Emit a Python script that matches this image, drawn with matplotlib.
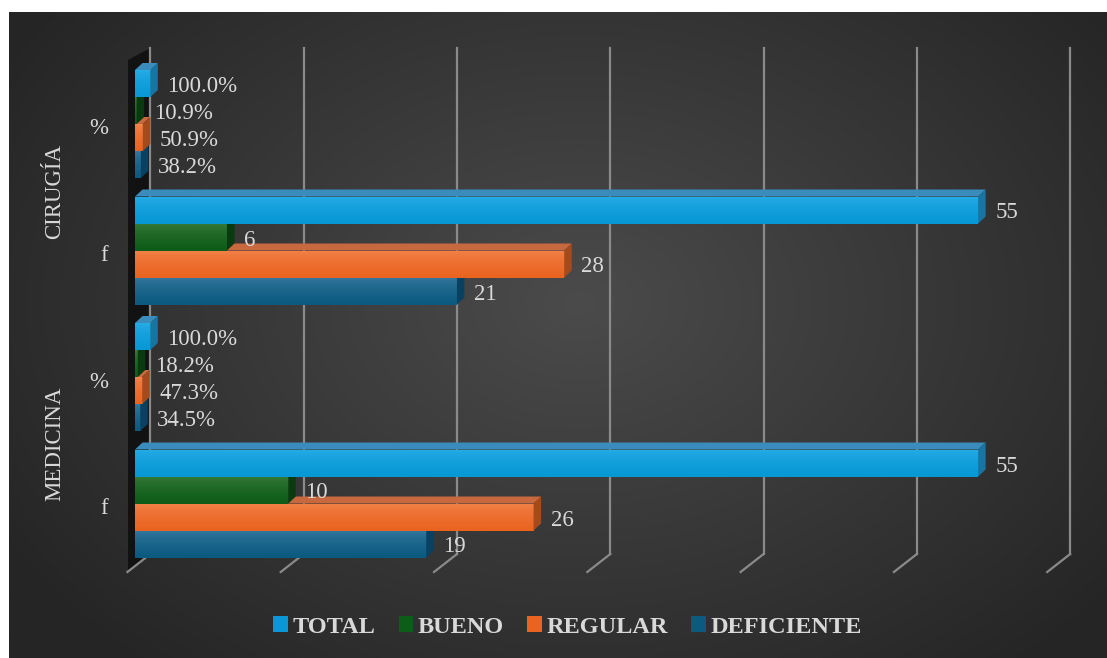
import numpy as np
import matplotlib.pyplot as plt
from matplotlib.patches import Polygon, Rectangle, Patch

# table values: frequency (f) and percentage (%) per service
groups = ['MEDICINA', 'CIRUGÍA']
series = ['DEFICIENTE', 'REGULAR', 'BUENO', 'TOTAL']
freq_medicina = [19, 26, 10, 55]
freq_cirugia = [21, 28, 6, 55]
pct_medicina = [34.5, 47.3, 18.2, 100.0]
pct_cirugia = [38.2, 50.9, 10.9, 100.0]
row_labels = ['f', '%', 'f', '%']
grid_values = [0, 10, 20, 30, 40, 50, 60]

# face colours: (front top, front bottom, top face, side face)
colors = {
    'TOTAL':      ('#2aaee6', '#0898d6', '#3a8cbc', '#1a74a2'),
    'BUENO':      ('#3b7d3b', '#0d5c18', '#2c6a2e', '#0a3a10'),
    'REGULAR':    ('#f3864f', '#ea6420', '#c8683e', '#a34b1c'),
    'DEFICIENTE': ('#3a7ba2', '#0c5a80', '#2d6a90', '#0a4060'),
}
txt_color = '#d9d9d9'
serif = 'Liberation Serif'

W, H = 1107, 658
SX = 15.33      # pixels per value unit
ROW = 126.5     # pixels between category rows
Y0 = 503.5      # pixel row of the lowest category
BAR_H = 27 / ROW
DX, DY = 7.5 / SX, 7 / ROW


def py(ypx):
    return (Y0 - ypx) / ROW


def px(xpx):
    return (xpx - 135) / SX


fig = plt.figure(figsize=(W / 100, H / 100), dpi=100)
fig.patch.set_facecolor('white')

# radial background
bg = fig.add_axes([9 / W, 0, 1 - 9 / W, (H - 12) / H])
bg.set_axis_off()
gx, gy = np.meshgrid(np.linspace(0, 1, 400), np.linspace(0, 1, 240))
r = np.sqrt(((gx - 0.52) / 0.62) ** 2 + ((gy - 0.45) / 0.75) ** 2)
r = np.clip(r, 0, 1)
c_in, c_out = np.array([0x4b, 0x4b, 0x4b]) / 255, np.array([0x25, 0x25, 0x25]) / 255
img = c_in[None, None, :] * (1 - r[..., None]) + c_out[None, None, :] * r[..., None]
bg.imshow(img, aspect='auto', extent=[0, 1, 0, 1], origin='upper')

ax = fig.add_axes([0, 0, 1, 1])
ax.patch.set_alpha(0)
ax.set_axis_off()

# side wall and back gridlines
back = 15.4 / SX
wall = Polygon([(px(128), py(572)), (px(128), py(60)), (back, py(48)), (back, py(554))],
               closed=True, facecolor='#121212', edgecolor='none', zorder=1)
ax.add_patch(wall)
for v in grid_values:
    ax.plot([v + back, v + back], [py(554), py(48)], color='#8a8a8a', lw=1.6, zorder=2)
    ax.plot([v + back, v + back - 23 / SX], [py(554), py(572)], color='#8a8a8a', lw=1.6, zorder=2)

grad = np.linspace(0, 1, 64)[:, None]


def draw_bar(v, yc, name, z, label):
    c_top, c_bot, c_lid, c_side = colors[name]
    y0, y1 = yc - BAR_H / 2, yc + BAR_H / 2
    ctop = np.array(plt.matplotlib.colors.to_rgb(c_top))
    cbot = np.array(plt.matplotlib.colors.to_rgb(c_bot))
    shade = np.clip(ctop[None, :] * (1 - grad ** 0.6) + cbot[None, :] * grad ** 0.6, 0, 1)
    rect = Rectangle((0, y0), v, BAR_H, facecolor=c_bot, edgecolor='none', zorder=z)
    ax.add_patch(rect)
    im = ax.imshow(shade[:, None, :], aspect='auto', extent=[0, v, y0, y1],
                   origin='upper', zorder=z + 0.1, interpolation='bilinear')
    im.set_clip_path(rect)
    lid = Polygon([(0, y1), (v, y1), (v + DX, y1 + DY), (DX, y1 + DY)],
                  closed=True, facecolor=c_lid, edgecolor='none', zorder=z + 0.2)
    side = Polygon([(v, y0), (v + DX, y0 + DY), (v + DX, y1 + DY), (v, y1)],
                   closed=True, facecolor=c_side, edgecolor='none', zorder=z + 0.2)
    ax.add_patch(lid)
    ax.add_patch(side)
    ax.text(v + 17 / SX, yc - 3 / ROW, label, ha='left', va='center',
            fontsize=16.5, family=serif, color=txt_color, zorder=20)


rows = [
    (freq_medicina, False),
    (pct_medicina, True),
    (freq_cirugia, False),
    (pct_cirugia, True),
]
for k, (vals, is_pct) in enumerate(rows):
    for i, (name, val) in enumerate(zip(series, vals)):
        yc = k - 1.5 * BAR_H + i * BAR_H
        if is_pct:
            draw_bar(val / 100, yc, name, 5 + k * 4 + i, f'{val:.1f}%')
        else:
            draw_bar(val, yc, name, 5 + k * 4 + i, f'{val}')
    ax.text(px(108), k - 5 / ROW, row_labels[k], ha='right', va='center',
            fontsize=16.5, family=serif, color=txt_color)

for j, g in enumerate(groups):
    ax.text(px(55), 2 * j + 0.5 - 4 / ROW, g, ha='center', va='center', rotation=90,
            fontsize=16.5, family=serif, color=txt_color)

ax.set_xlim(px(0), px(W))
ax.set_ylim(py(H), py(0))

handles = [Patch(facecolor=colors[s][1], edgecolor='none') for s in series[::-1]]
leg = fig.legend(handles, series[::-1], loc='center', bbox_to_anchor=(567.5 / W, 31 / H),
                 ncol=4, frameon=False, handlelength=0.6, handleheight=0.6,
                 handletextpad=0.2, columnspacing=0.95,
                 prop={'family': serif, 'weight': 'bold', 'size': 17.5})
for t in leg.get_texts():
    t.set_color(txt_color)

fig.savefig('out.png', dpi=100)
